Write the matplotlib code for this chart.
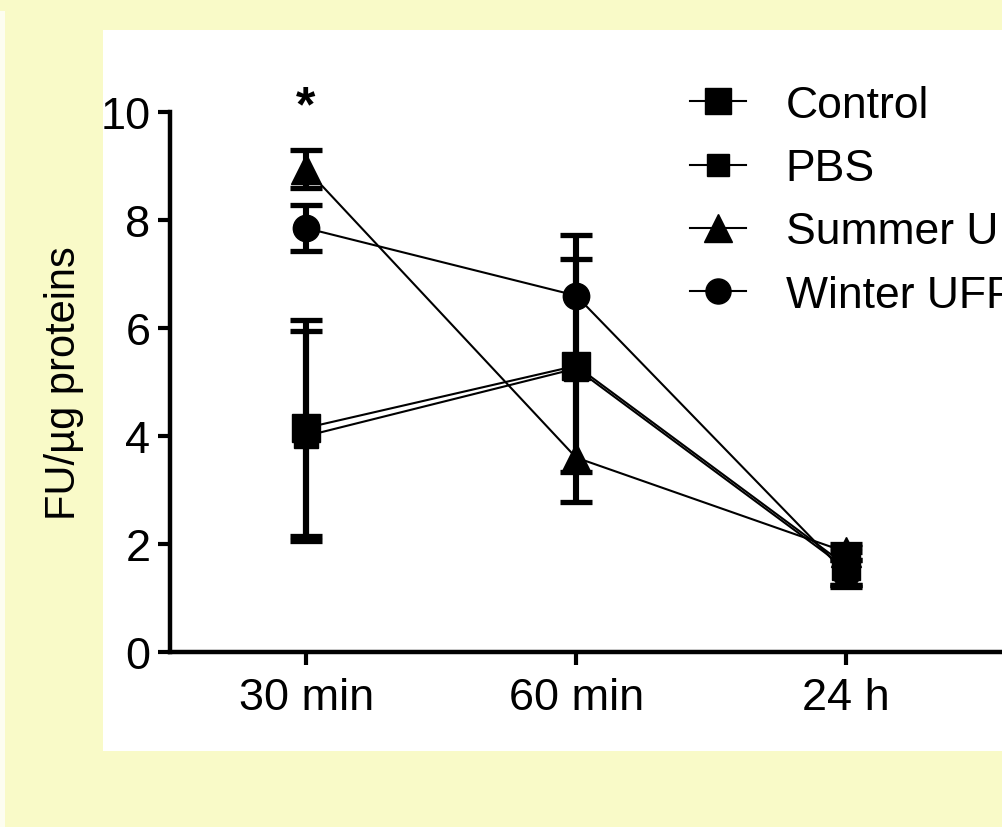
import matplotlib
matplotlib.use("Agg")
import matplotlib.pyplot as plt
import matplotlib.patches as patches
import numpy as np

plt.rcParams['font.family'] = ['Liberation Sans', 'DejaVu Sans']

# data
# (nan = error bar too small to show, hidden by the marker)
labels = ["30 min", "60 min", "24 h"]
control_mean = [4.15, 5.30, 1.60]
control_err = [2.00, 1.97, 0.35]
pbs_mean = [4.00, 5.25, 1.55]
pbs_err = [1.95, 2.47, 0.30]
summer_mean = [8.95, 3.60, 1.85]
summer_err = [0.35, np.nan, 0.15]
winter_mean = [7.85, 6.60, 1.45]
winter_err = [0.42, np.nan, 0.25]

series = [
    ("Control", control_mean, control_err, "s", 20),
    ("PBS", pbs_mean, pbs_err, "s", 17),
    ("Summer UFP", summer_mean, summer_err, "^", 21),
    ("Winter UFP", winter_mean, winter_err, "o", 19),
]

fig = plt.figure(figsize=(10.03, 8.28), dpi=100)
fig.patch.set_facecolor("#f9fac8")
# white slide panel behind the chart
fig.patches.append(patches.Rectangle((103 / 1003, 1 - 752 / 828), 900 / 1003, 721 / 828,
                                     transform=fig.transFigure, facecolor="white",
                                     edgecolor="none", zorder=-5))
fig.patches.append(patches.Rectangle((0, 0), 5 / 1003, 1 - 12 / 828,
                                     transform=fig.transFigure, facecolor="#fdfdf0",
                                     edgecolor="none", zorder=-5))

ax = fig.add_axes([170 / 1003, 175 / 828, 840 / 1003, 540 / 828])
ax.set_facecolor("none")
ax.set_zorder(2)

x = np.arange(len(labels))
handles = []
for name, m, e, mk, ms in series:
    ax.errorbar(x, m, yerr=np.array(e), fmt="none", ecolor="black", elinewidth=4.4,
                capsize=11.5, capthick=3.8, zorder=2)
    h, = ax.plot(x, m, color="black", lw=1.5, marker=mk, markersize=ms,
                 markerfacecolor="black", markeredgecolor="black", zorder=3,
                 label=name)
    handles.append(h)

ax.text(0, 9.85, "*", ha="center", va="baseline", fontsize=36, fontweight="bold",
        clip_on=False)

ax.set_xlim(-0.504, 2.607)
ax.set_ylim(0, 10)
ax.set_xticks(x)
ax.set_xticklabels(labels)
ax.set_yticks([0, 2, 4, 6, 8, 10])
ax.tick_params(axis="both", labelsize=32.5, width=3, length=9, direction="out", color="black")
ax.tick_params(axis="x", pad=9)
ax.tick_params(axis="y", pad=5)
for s in ["top", "right"]:
    ax.spines[s].set_visible(False)
for s in ["left", "bottom"]:
    ax.spines[s].set_linewidth(3.2)
ax.set_ylabel("FU/µg proteins", fontsize=30, labelpad=12)

fig.legend(handles=handles, loc="upper left", bbox_to_anchor=(690 / 1003, 1 - 86 / 828),
           frameon=False, fontsize=32, handlelength=1.25, handletextpad=0.9,
           labelspacing=0.5, borderaxespad=0, borderpad=0, markerscale=0.95)

fig.savefig("out.png", dpi=100, facecolor=fig.get_facecolor())
